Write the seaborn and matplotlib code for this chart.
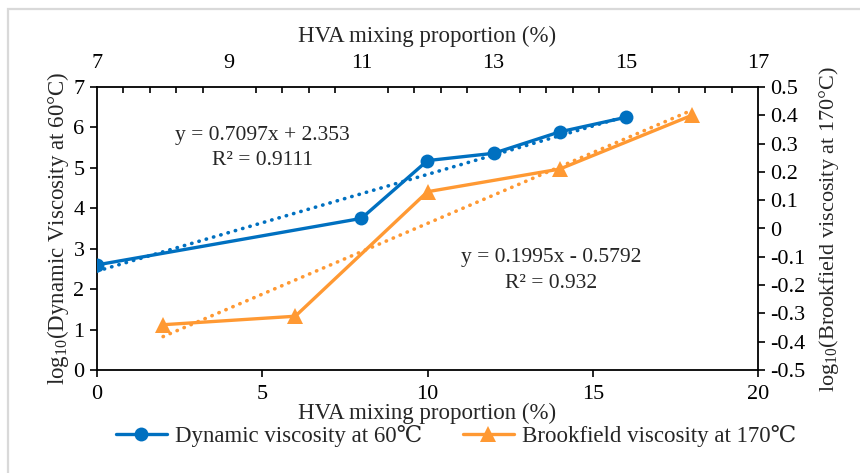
import numpy as np
import pandas as pd
import matplotlib
matplotlib.use("Agg")
import matplotlib.pyplot as plt
from matplotlib.ticker import FixedLocator, FuncFormatter
from matplotlib.patches import Rectangle
import seaborn as sns

# Dynamic viscosity series (plotted against the top HVA axis)
dyn_hva = [7, 11, 12, 13, 14, 15]
dyn_log = [2.60, 3.75, 5.18, 5.36, 5.89, 6.25]

# Brookfield viscosity series (plotted against the bottom HVA axis)
brk_hva = [2, 6, 10, 14, 18]
brk_log = [-0.34, -0.31, 0.13, 0.21, 0.40]

dyn_eq = ["y = 0.7097x + 2.353", "R\u00b2 = 0.9111"]
brk_eq = ["y = 0.1995x - 0.5792", "R\u00b2 = 0.932"]

bottom_ticks = [0, 5, 10, 15, 20]
top_ticks = [7, 9, 11, 13, 15, 17]
left_ticks = [0, 1, 2, 3, 4, 5, 6, 7]
right_ticks = [-0.5, -0.4, -0.3, -0.2, -0.1, 0, 0.1, 0.2, 0.3, 0.4, 0.5]

BLUE = "#0070C0"
ORANGE = "#FF9933"

sns.set_theme(style="ticks")
plt.rcParams["font.family"] = ["Liberation Serif", "DejaVu Serif"]
plt.rcParams["mathtext.fontset"] = "custom"
plt.rcParams["mathtext.rm"] = "Liberation Serif"
plt.rcParams["axes.unicode_minus"] = False
FS_TICK = 16
FS_LAB = 16.5
FS_EQ = 15.5

dyn = pd.DataFrame({"hva": dyn_hva, "v": dyn_log})
brk = pd.DataFrame({"hva": brk_hva, "v": brk_log})

fig = plt.figure(figsize=(8.6, 4.73), dpi=100)
ax = fig.add_axes([97 / 860, 1 - 370 / 473, (758 - 97) / 860, (370 - 87) / 473])
axr = ax.twinx()   # right axis for Brookfield viscosity
axt = ax.twiny()   # top axis for the dynamic viscosity HVA values

dotted = dict(linestyle=(0, (0.1, 2.0)), lw=2.6, dash_capstyle="round")

# Brookfield: data line + linear trend
sns.regplot(data=brk, x="hva", y="v", ax=axr, scatter=False, ci=None, truncate=True,
            color=ORANGE, line_kws=dotted)
sns.lineplot(data=brk, x="hva", y="v", ax=axr, color=ORANGE, lw=2.4, marker="^",
             markersize=11, markeredgewidth=0, label="Brookfield viscosity at 170\u2103")

# Dynamic: data line + linear trend
sns.regplot(data=dyn, x="hva", y="v", ax=axt, scatter=False, ci=None, truncate=True,
            color=BLUE, line_kws=dotted)
sns.lineplot(data=dyn, x="hva", y="v", ax=axt, color=BLUE, lw=2.4, marker="o",
             markersize=10, markeredgewidth=0, label="Dynamic viscosity at 60\u2103")

for a in (axr, axt):
    if a.get_legend() is not None:
        a.get_legend().remove()

# Axis limits
ax.set_xlim(0, 20)
ax.set_ylim(0, 7)
axr.set_ylim(-0.5, 0.5)
axt.set_xlim(7, 17)

# Spines
for a in (ax, axr, axt):
    for s in a.spines.values():
        s.set_visible(False)
ax.spines["left"].set_visible(True)
ax.spines["bottom"].set_visible(True)
axr.spines["right"].set_visible(True)
axt.spines["top"].set_visible(True)
for a in (ax, axr, axt):
    for s in a.spines.values():
        s.set_color("black")
        s.set_linewidth(1.3)

# Ticks
ax.xaxis.set_major_locator(FixedLocator(bottom_ticks))
ax.yaxis.set_major_locator(FixedLocator(left_ticks))
ax.tick_params(axis="both", direction="out", length=5, width=1.2, labelsize=FS_TICK,
               color="black", labelcolor="black", pad=4)
ax.tick_params(axis="x", pad=6)

axr.yaxis.set_major_locator(FixedLocator(right_ticks))
axr.yaxis.set_major_formatter(FuncFormatter(lambda v, p: "0" if abs(v) < 1e-9 else f"{v:.1f}"))
axr.tick_params(axis="y", direction="out", length=5, width=1.2, labelsize=FS_TICK,
                color="black", labelcolor="black", pad=4)

axt.xaxis.set_major_locator(FixedLocator(top_ticks))
axt.xaxis.set_minor_locator(FixedLocator(np.round(np.arange(7, 17.01, 0.4), 2)))
axt.tick_params(axis="x", which="both", direction="in", length=4, width=1.2,
                labelsize=FS_TICK, color="black", labelcolor="black", pad=10)
axt.tick_params(axis="x", which="major", length=0)

# Axis labels
ax.set_xlabel("HVA mixing proportion (%)", fontsize=FS_LAB, labelpad=-1)
ax.set_ylabel(r"log$_{\mathrm{10}}$(Dynamic Viscosity at 60°C)", fontsize=FS_LAB, labelpad=2)
axr.set_ylabel(r"log$_{\mathrm{10}}$(Brookfield viscosity at 170°C)", fontsize=16, labelpad=8)
axt.set_xlabel("HVA mixing proportion (%)", fontsize=FS_LAB, labelpad=9)

# Trendline equations
ax.text(5.0, 5.81, dyn_eq[0], ha="center", va="center", fontsize=FS_EQ)
ax.text(5.0, 5.19, dyn_eq[1], ha="center", va="center", fontsize=FS_EQ)
ax.text(13.73, 2.79, brk_eq[0], ha="center", va="center", fontsize=FS_EQ)
ax.text(13.73, 2.15, brk_eq[1], ha="center", va="center", fontsize=FS_EQ)

# Legend below the plot
h_dyn = axt.get_lines()[-1]
h_brk = axr.get_lines()[-1]
fig.legend([h_dyn, h_brk], [h_dyn.get_label(), h_brk.get_label()],
           loc="center", bbox_to_anchor=(456 / 860, 1 - 436 / 473), ncol=2,
           frameon=False, fontsize=FS_LAB, handlelength=2.2, columnspacing=1.8,
           handletextpad=0.35)

# Light frame around the figure
fig.patches.append(Rectangle((8 / 860, -0.05), 1.0, 1 - 9 / 473 + 0.05,
                             transform=fig.transFigure, fill=False,
                             edgecolor="#d9d9d9", linewidth=1.6))

fig.savefig("out.png", dpi=100)
